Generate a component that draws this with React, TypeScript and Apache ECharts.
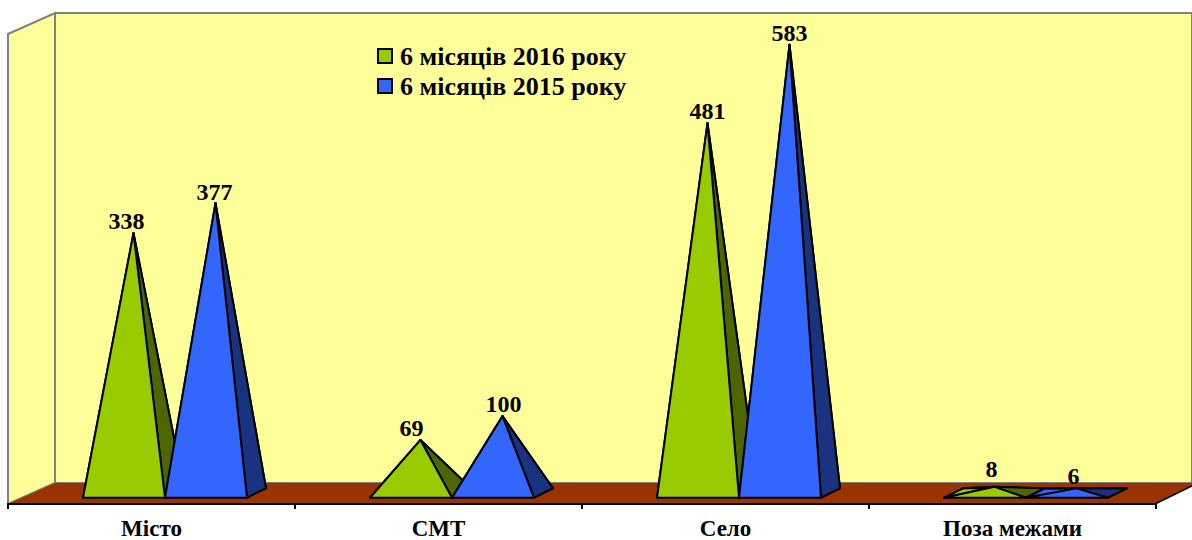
import React, { useEffect, useRef } from "react";
import * as echarts from "echarts";

const categories = ["Місто", "СМТ", "Село", "Поза межами"];
const seriesNames = ["6 місяців 2016 року", "6 місяців 2015 року"];
const values2016 = [338, 69, 481, 8];
const values2015 = [377, 100, 583, 6];
const frontColors = ["#99CC00", "#3366FF"];
const sideColors = ["#4D6600", "#1A3380"];
// small hand adjustments of the value labels, matching the reference
const labelShift2016 = [[-7, 0], [-9, 0], [0, 0], [-3, -6]];
const labelShift2015 = [[-1, 1], [1, 0], [0, 0], [-3, 0]];

const FONT = '"Liberation Serif", serif';
const BASE_RATIO = 0.2857;
const GAP_RATIO = 0.047;
const DEPTH_X = 19;
const DEPTH_Y = 9.5;

function pyramid(idx: number, shifts: number[][]) {
  return (params: any, api: any) => {
    const cat = api.value(0);
    const val = api.value(1);
    const pt = api.coord([cat, val]);
    const zero = api.coord([cat, 0]);
    const band = api.size([1, 0])[0];
    const w = band * BASE_RATIO;
    const left = pt[0] + band * GAP_RATIO - (idx === 0 ? w : 0);
    const right = left + w;
    const fy = zero[1] + DEPTH_Y / 2;
    const by = fy - DEPTH_Y;
    const apex = [(left + right) / 2 + DEPTH_X / 2, pt[1]];
    const s = shifts[params.dataIndex];
    const line = { stroke: "#000", lineWidth: 2, lineJoin: "round" };
    return {
      type: "group",
      children: [
        {
          type: "polygon",
          shape: { points: [[left, fy], [left + DEPTH_X, by], apex] },
          style: { fill: frontColors[idx], ...line },
        },
        {
          type: "polygon",
          shape: { points: [[left + DEPTH_X, by], [right + DEPTH_X, by], apex] },
          style: { fill: sideColors[idx], ...line },
        },
        {
          type: "polygon",
          shape: { points: [[right, fy], [right + DEPTH_X, by], apex] },
          style: { fill: sideColors[idx], ...line },
        },
        {
          type: "polygon",
          shape: { points: [[left, fy], [right, fy], apex] },
          style: { fill: frontColors[idx], ...line },
        },
        {
          type: "text",
          style: {
            x: apex[0] + s[0],
            y: apex[1] - 12 + s[1],
            text: String(val),
            fill: "#000",
            font: `bold 24px ${FONT}`,
            align: "center",
            verticalAlign: "middle",
          },
        },
      ],
    };
  };
}

export default function App() {
  const ref = useRef<HTMLDivElement>(null);
  useEffect(() => {
    document.body.style.margin = "0";
    const chart = echarts.init(ref.current!, undefined, { renderer: "svg" });
    const mk = (i: number, vals: number[], shifts: number[][]) => ({
      type: "custom",
      name: seriesNames[i],
      coordinateSystem: "cartesian2d",
      clip: false,
      itemStyle: { color: frontColors[i], borderColor: "#000", borderWidth: 1.5 },
      encode: { x: 0, y: 1 },
      data: vals.map((v, c) => [c, v]),
      renderItem: pyramid(i, shifts),
    });
    chart.setOption({
      animation: false,
      backgroundColor: "#fff",
      grid: { left: 8, width: 1148, top: 31.65, bottom: 44.75 },
      legend: {
        orient: "vertical",
        left: 372,
        top: 38,
        itemWidth: 14,
        itemHeight: 14,
        itemGap: 4,
        padding: 5,
        icon: "rect",
        textStyle: { fontFamily: FONT, fontWeight: "bold", fontSize: 26, color: "#000", padding: [0, 0, 0, 3] },
        data: seriesNames,
      },
      xAxis: {
        type: "category",
        data: categories,
        offset: 11,
        axisLine: { show: true, onZero: false, lineStyle: { color: "#000", width: 2 } },
        axisTick: { show: true, length: 5, lineStyle: { color: "#000", width: 2 } },
        axisLabel: { fontFamily: FONT, fontWeight: "bold", fontSize: 23, color: "#000", margin: 13 },
      },
      yAxis: { type: "value", min: 0, max: 600, show: false },
      graphic: [
        { type: "polygon", silent: true, shape: { points: [[55, 13], [1192, 13], [1192, 483], [55, 483]] }, style: { fill: "#FFFF99", stroke: "#808080", lineWidth: 2 } },
        { type: "polygon", silent: true, shape: { points: [[8, 34], [55, 13], [55, 483], [8, 504]] }, style: { fill: "#FFFF99", stroke: "#808080", lineWidth: 2 } },
        { type: "polygon", silent: true, shape: { points: [[8, 504], [55, 483], [1192, 483], [1192, 486], [1155, 504]] }, style: { fill: "#993300" } },
        { type: "line", silent: true, shape: { x1: 1155, y1: 504, x2: 1192, y2: 486 }, style: { stroke: "#000", lineWidth: 1.5 } },
      ],
      series: [mk(0, values2016, labelShift2016), mk(1, values2015, labelShift2015)],
    });
    return () => chart.dispose();
  }, []);
  return <div ref={ref} style={{ position: "fixed", left: 0, top: 0, width: 1192, height: 540 }} />;
}
